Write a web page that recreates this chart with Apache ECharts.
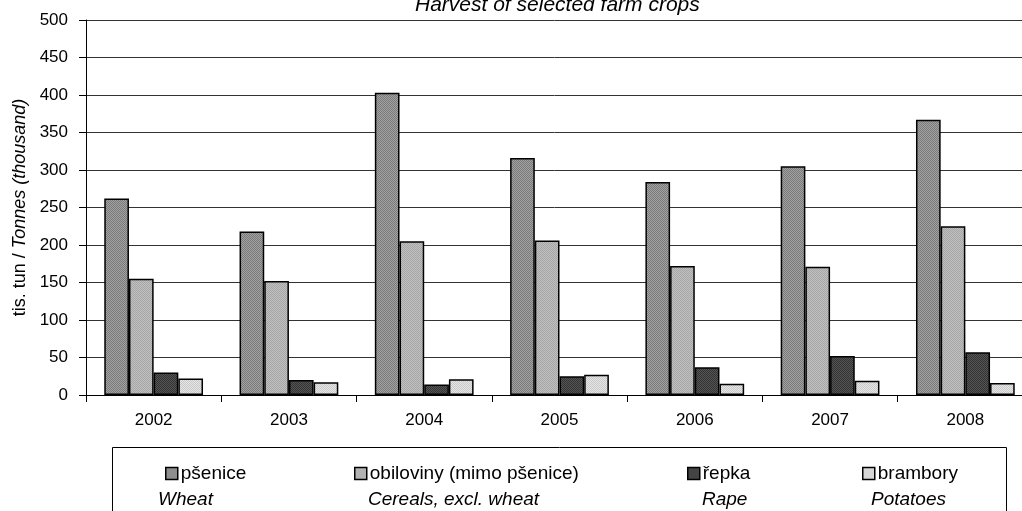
<!DOCTYPE html>
<html>
<head>
<meta charset="utf-8">
<script src="https://cdn.jsdelivr.net/npm/echarts@6/dist/echarts.min.js"></script>
<style>
html,body{margin:0;padding:0;background:#fff;}
#chart{width:1022px;height:511px;}
</style>
</head>
<body>
<div id="chart"></div>
<script>
// ---- data ----
var years = ['2002', '2003', '2004', '2005', '2006', '2007', '2008'];
var seriesNames = ['pšenice', 'obiloviny (mimo pšenice)', 'řepka', 'brambory'];
var seriesNamesEn = ['Wheat', 'Cereals, excl. wheat', 'Rape', 'Potatoes'];
var wheat    = [262, 218, 403, 316, 284, 305, 367];
var cereals  = [155, 152, 205, 206, 172, 171, 225];
var rape     = [30, 20, 14, 25, 37, 52, 57];
var potatoes = [22, 17, 21, 27, 15, 19, 16];
var yTicks = [0, 50, 100, 150, 200, 250, 300, 350, 400, 450, 500];
var titleText = 'Harvest of selected farm crops';

// ---- styling helpers ----
function makePattern(c1, c2) {
  var cv = document.createElement('canvas');
  cv.width = 2; cv.height = 2;
  var ctx = cv.getContext('2d');
  ctx.fillStyle = c1; ctx.fillRect(0, 0, 2, 2);
  ctx.fillStyle = c2; ctx.fillRect(0, 0, 1, 1); ctx.fillRect(1, 1, 1, 1);
  return { image: cv, repeat: 'repeat' };
}
var fills = [
  makePattern('#a2a2a2', '#7a7a7a'),
  makePattern('#c0c0c0', '#a6a6a6'),
  makePattern('#555555', '#333333'),
  makePattern('#e6e6e6', '#c8c8c8')
];
var values = [wheat, cereals, rape, potatoes];
var font = 'Liberation Sans, Arial, sans-serif';

var series = seriesNames.map(function (n, i) {
  return {
    name: n,
    type: 'bar',
    data: values[i],
    barGap: '0%',
    barCategoryGap: '27%',
    itemStyle: { color: fills[i], borderColor: '#000', borderWidth: 1.5 },
    emphasis: { disabled: true },
    animation: false
  };
});

var legendLefts = [165, 354, 687, 862];
var legends = seriesNames.map(function (n, i) {
  return {
    data: [n],
    left: legendLefts[i],
    top: 464,
    padding: 0,
    icon: 'rect',
    itemWidth: 12,
    itemHeight: 12,
    itemGap: 0,
    itemStyle: { borderColor: '#000', borderWidth: 1.5 },
    textStyle: { fontFamily: font, fontSize: 19, color: '#000', lineHeight: 19, padding: [0, 0, 0, -2] },
    selectedMode: false
  };
});

var enLefts = [158, 368, 702, 871];
var graphics = [{
  type: 'rect',
  shape: { x: 112.5, y: 447.5, width: 894, height: 80 },
  style: { fill: 'none', stroke: '#000', lineWidth: 1 },
  z: 0
}];
seriesNamesEn.forEach(function (t, i) {
  graphics.push({
    type: 'text',
    left: enLefts[i],
    top: 490,
    style: { text: t, fontFamily: font, fontSize: 19, fontStyle: 'italic', fill: '#000' }
  });
});

var chart = echarts.init(document.getElementById('chart'), null, { renderer: 'canvas' });
chart.setOption({
  backgroundColor: '#fff',
  animation: false,
  title: {
    text: titleText,
    left: 415,
    top: -5,
    padding: 0,
    textStyle: { fontFamily: font, fontSize: 21, fontStyle: 'italic', fontWeight: 'normal', color: '#000' }
  },
  grid: { left: 86, width: 947, top: 20, bottom: 116, containLabel: false, outerBoundsMode: 'none' },
  xAxis: {
    type: 'category',
    data: years,
    axisLine: { lineStyle: { color: '#000', width: 1 } },
    axisTick: { show: true, length: 7, lineStyle: { color: '#000' } },
    axisLabel: { fontFamily: font, fontSize: 17, color: '#000', margin: 17 },
    splitLine: { show: false }
  },
  yAxis: {
    type: 'value',
    min: yTicks[0],
    max: yTicks[yTicks.length - 1],
    interval: 50,
    name: '{n|tis. tun / }{i|Tonnes (thousand)}',
    nameLocation: 'middle',
    nameRotate: 90,
    nameGap: 56,
    nameTextStyle: {
      rich: {
        n: { fontFamily: font, fontSize: 18, color: '#000' },
        i: { fontFamily: font, fontSize: 18, color: '#000', fontStyle: 'italic' }
      }
    },
    axisLine: { show: true, lineStyle: { color: '#000', width: 1 } },
    axisTick: { show: true, length: 7, lineStyle: { color: '#000' } },
    axisLabel: { fontFamily: font, fontSize: 17, color: '#000', margin: 18 },
    splitLine: { show: true, lineStyle: { color: '#333', width: 1 } }
  },
  legend: legends,
  graphic: graphics,
  series: series
});
</script>
</body>
</html>
